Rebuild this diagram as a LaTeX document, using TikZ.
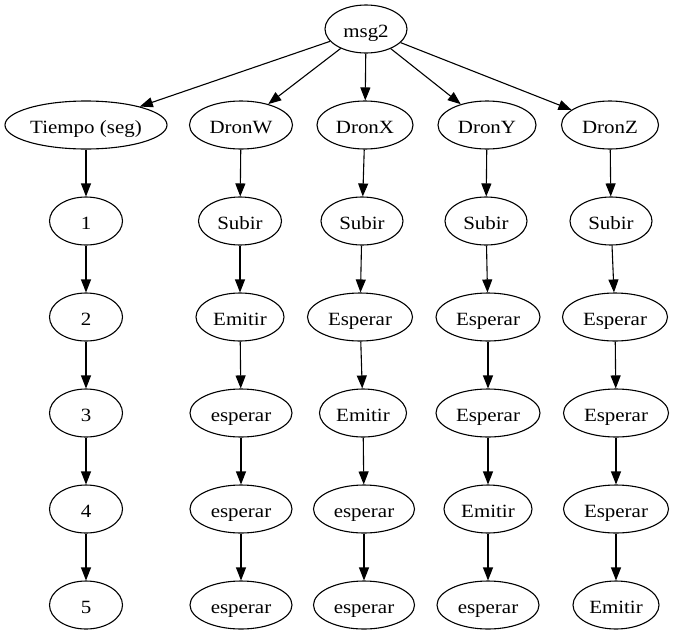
\documentclass[tikz,border=0pt]{standalone}
\usepackage{fontspec}
\setmainfont[FakeStretch=1.12]{Liberation Serif}
\usetikzlibrary{shapes.geometric,arrows.meta}
\begin{document}
\begin{tikzpicture}[x=1pt,y=-1pt,
  nd/.style={ellipse,draw,line width=1.1pt,minimum height=48pt,inner sep=0pt,
    text height=18pt,text depth=2pt,
    font=\fontsize{18.7}{22}\selectfont},
  ed/.style={line width=1.1pt,-{Triangle[length=13pt,width=10pt]}}]
\useasboundingbox (0,0) rectangle (674,635);
% root
\node[nd,minimum width=82pt] (msg) at (366,29) {msg2};
% row 2
\node[nd,minimum width=162pt] (t) at (86,125) {Tiempo (seg)};
\node[nd,minimum width=103pt] (w) at (241,125) {DronW};
\node[nd,minimum width=96pt] (x) at (365,125) {DronX};
\node[nd,minimum width=98pt] (y) at (487,125) {DronY};
\node[nd,minimum width=97pt] (z) at (610,125) {DronZ};
% time column
\node[nd,minimum width=73pt] (t1) at (86,221) {1};
\node[nd,minimum width=73pt] (t2) at (86,317) {2};
\node[nd,minimum width=73pt] (t3) at (86,413) {3};
\node[nd,minimum width=73pt] (t4) at (86,509) {4};
\node[nd,minimum width=73pt] (t5) at (86,605) {5};
% W column
\node[nd,minimum width=83pt] (w1) at (240,221) {Subir};
\node[nd,minimum width=88pt] (w2) at (240,317) {Emitir};
\node[nd,minimum width=102pt] (w3) at (241,413) {esperar};
\node[nd,minimum width=102pt] (w4) at (241,509) {esperar};
\node[nd,minimum width=102pt] (w5) at (241,605) {esperar};
% X column
\node[nd,minimum width=82pt] (x1) at (362,221) {Subir};
\node[nd,minimum width=105pt] (x2) at (360,317) {Esperar};
\node[nd,minimum width=87pt] (x3) at (363,413) {Emitir};
\node[nd,minimum width=101pt] (x4) at (364,509) {esperar};
\node[nd,minimum width=101pt] (x5) at (364,605) {esperar};
% Y column
\node[nd,minimum width=82pt] (y1) at (486,221) {Subir};
\node[nd,minimum width=104pt] (y2) at (488,317) {Esperar};
\node[nd,minimum width=104pt] (y3) at (488,413) {Esperar};
\node[nd,minimum width=88pt] (y4) at (488,509) {Emitir};
\node[nd,minimum width=102pt] (y5) at (488,605) {esperar};
% Z column
\node[nd,minimum width=82pt] (z1) at (611,221) {Subir};
\node[nd,minimum width=105pt] (z2) at (615,317) {Esperar};
\node[nd,minimum width=105pt] (z3) at (616,413) {Esperar};
\node[nd,minimum width=105pt] (z4) at (616,509) {Esperar};
\node[nd,minimum width=86pt] (z5) at (616,605) {Emitir};
% edges
\foreach \c in {t,w,x,y,z} \draw[ed] (msg) -- (\c);
\foreach \c in {t,w,x,y,z} {
  \draw[ed] (\c) -- (\c1);
  \draw[ed] (\c1) -- (\c2);
  \draw[ed] (\c2) -- (\c3);
  \draw[ed] (\c3) -- (\c4);
  \draw[ed] (\c4) -- (\c5);
}
\end{tikzpicture}
\end{document}
